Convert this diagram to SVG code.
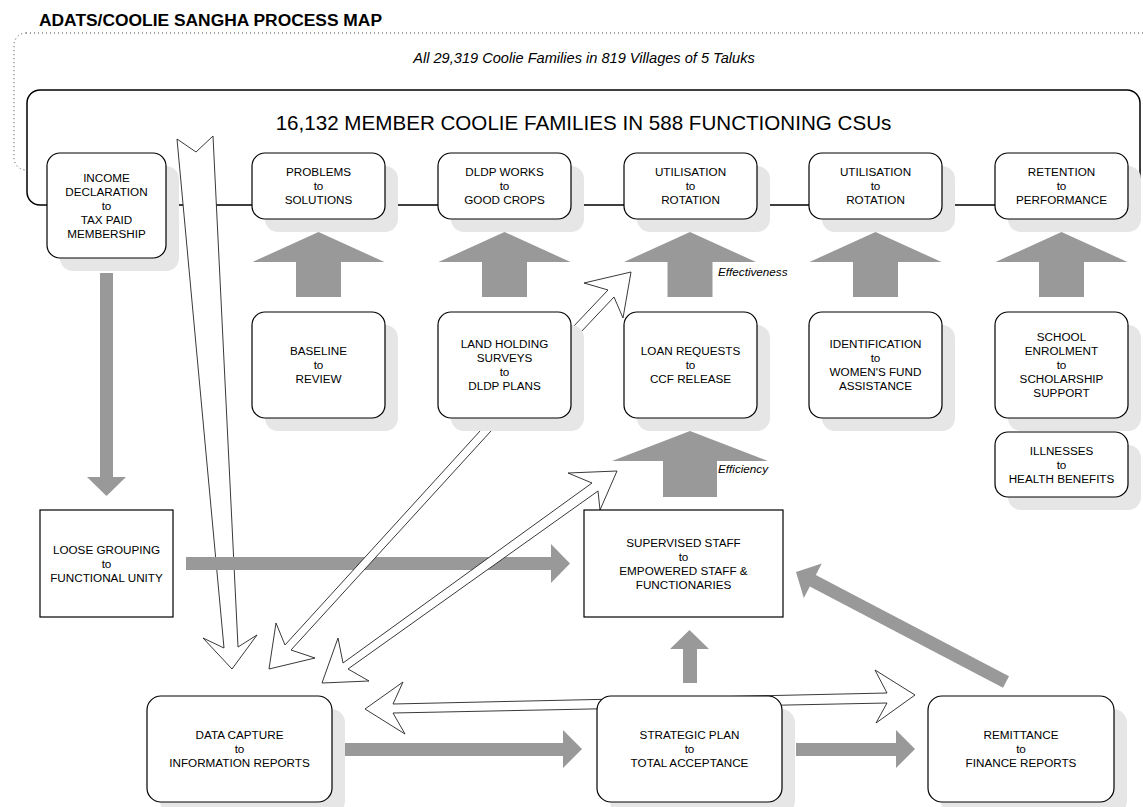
<svg xmlns="http://www.w3.org/2000/svg" width="1143" height="807" viewBox="0 0 1143 807">
<style>
text{font-family:"Liberation Sans",Arial,sans-serif;fill:#000}
.t{font-size:11.7px;text-anchor:middle}
.box{fill:#fff;stroke:#000;stroke-width:1.2}
.sh{fill:#e6e6e6}
.ga{fill:#999}
.ha{fill:#fff;stroke:#222;stroke-width:0.9;stroke-linejoin:miter}
.lbl{font-size:11.7px;font-style:italic}
</style>
<rect x="0" y="0" width="1143" height="807" fill="#fff"/>
<text x="39" y="26" font-size="17.4" font-weight="bold">ADATS/COOLIE SANGHA PROCESS MAP</text>

<g id="all-families">
<rect x="14" y="33" width="1150" height="137" rx="12" fill="none" stroke="#444" stroke-width="1" stroke-dasharray="1 3"/>
<text x="584" y="63" font-size="14.6" font-style="italic" text-anchor="middle">All 29,319 Coolie Families in 819 Villages of 5 Taluks</text>
</g>
<g id="member-families">
<rect x="27" y="90" width="1113" height="115" rx="13" fill="#fff" stroke="#000" stroke-width="1.5"/>
<text x="583.5" y="130" font-size="20.6" text-anchor="middle">16,132 MEMBER COOLIE FAMILIES IN 588 FUNCTIONING CSUs</text>
</g>

<g id="connectors">
<polygon class="ha" points="177,139 196,152 213,136 238,647 257,635 232,669 203,638 224,648"/>
<polygon class="ga" points="296,297 296,262 252.5,262 318.5,232 384.5,262 341,262 341,297"/>
<polygon class="ga" points="482,297 482,262 438.5,262 504.5,232 570.5,262 527,262 527,297"/>
<polygon class="ga" points="667.5,297 667.5,262 624,262 690,232 756,262 712.5,262 712.5,297"/>
<polygon class="ga" points="853,297 853,262 809.5,262 875.5,232 941.5,262 898,262 898,297"/>
<polygon class="ga" points="1039,297 1039,262 995.5,262 1061.5,232 1127.5,262 1084,262 1084,297"/>
<polygon class="ga" points="663,497 663,461 612,461 690,431 768,461 717,461 717,497"/>
<polygon class="ga" points="100,273 113,273 113,477 126,477 106.5,496 87,477 100,477"/>
<polygon class="ga" points="186,557 551,557 551,544 570,563.5 551,583 551,570 186,570"/>
<polygon class="ga" points="683,683 683,649 670,649 689.5,630 709,649 697,649 697,683"/>
<polygon class="ga" points="345,743 563,743 563,730 582,749 563,768 563,756 345,756"/>
<polygon class="ga" points="796,743 896,743 896,730 915,749 896,768 896,756 796,756"/>
<polygon class="ga" points="1009,676.2 815.8,575 821.8,563.5 796,572 803.8,598.1 809.8,586.6 1003,687.8"/>
<polygon class="ha" points="494.6,415 285,645 276,623 269,669 315,658 291,650 505.6,415"/>
<polygon class="ha" points="555,346 608,290 584,283 631,272 623,318 614,297 563,351"/>
<polygon class="ha" points="322,683 338,638 343,663 592,483 568,473 617,471 600,510 598,491 348,669 369,681"/>
<polygon class="ha" points="365,709 403,682 393,704 887,693 875,670 915,695 876,723 887,703 393,713 405,734"/>
<text class="lbl" x="718" y="276">Effectiveness</text>
<text class="lbl" x="718" y="473">Efficiency</text>
</g>

<g id="income">
<rect class="sh" x="60" y="166" width="119" height="105" rx="13"/>
<rect class="box" x="47" y="153" width="119" height="105" rx="13"/>
<text class="t" x="106.5" y="181.7">INCOME<tspan x="106.5" dy="14">DECLARATION</tspan><tspan x="106.5" dy="14">to</tspan><tspan x="106.5" dy="14">TAX PAID</tspan><tspan x="106.5" dy="14">MEMBERSHIP</tspan></text>
</g>
<g id="problems">
<rect class="sh" x="265" y="166" width="133" height="66" rx="13"/>
<rect class="box" x="252" y="153" width="133" height="66" rx="13"/>
<text class="t" x="318.5" y="176.2">PROBLEMS<tspan x="318.5" dy="14">to</tspan><tspan x="318.5" dy="14">SOLUTIONS</tspan></text>
</g>
<g id="dldp-works">
<rect class="sh" x="451" y="166" width="133" height="66" rx="13"/>
<rect class="box" x="438" y="153" width="133" height="66" rx="13"/>
<text class="t" x="504.5" y="176.2">DLDP WORKS<tspan x="504.5" dy="14">to</tspan><tspan x="504.5" dy="14">GOOD CROPS</tspan></text>
</g>
<g id="utilisation-1">
<rect class="sh" x="637" y="166" width="133" height="66" rx="13"/>
<rect class="box" x="624" y="153" width="133" height="66" rx="13"/>
<text class="t" x="690.5" y="176.2">UTILISATION<tspan x="690.5" dy="14">to</tspan><tspan x="690.5" dy="14">ROTATION</tspan></text>
</g>
<g id="utilisation-2">
<rect class="sh" x="822" y="166" width="133" height="66" rx="13"/>
<rect class="box" x="809" y="153" width="133" height="66" rx="13"/>
<text class="t" x="875.5" y="176.2">UTILISATION<tspan x="875.5" dy="14">to</tspan><tspan x="875.5" dy="14">ROTATION</tspan></text>
</g>
<g id="retention">
<rect class="sh" x="1008" y="166" width="133" height="66" rx="13"/>
<rect class="box" x="995" y="153" width="133" height="66" rx="13"/>
<text class="t" x="1061.5" y="176.2">RETENTION<tspan x="1061.5" dy="14">to</tspan><tspan x="1061.5" dy="14">PERFORMANCE</tspan></text>
</g>

<g id="baseline">
<rect class="sh" x="265" y="325" width="133" height="106" rx="13"/>
<rect class="box" x="252" y="312" width="133" height="106" rx="13"/>
<text class="t" x="318.5" y="355.2">BASELINE<tspan x="318.5" dy="14">to</tspan><tspan x="318.5" dy="14">REVIEW</tspan></text>
</g>
<g id="land-holding">
<rect class="sh" x="451" y="325" width="133" height="106" rx="13"/>
<rect class="box" x="438" y="312" width="133" height="106" rx="13"/>
<text class="t" x="504.5" y="348.2">LAND HOLDING<tspan x="504.5" dy="14">SURVEYS</tspan><tspan x="504.5" dy="14">to</tspan><tspan x="504.5" dy="14">DLDP PLANS</tspan></text>
</g>
<g id="loan-requests">
<rect class="sh" x="637" y="325" width="133" height="106" rx="13"/>
<rect class="box" x="624" y="312" width="133" height="106" rx="13"/>
<text class="t" x="690.5" y="355.2">LOAN REQUESTS<tspan x="690.5" dy="14">to</tspan><tspan x="690.5" dy="14">CCF RELEASE</tspan></text>
</g>
<g id="identification">
<rect class="sh" x="822" y="325" width="133" height="106" rx="13"/>
<rect class="box" x="809" y="312" width="133" height="106" rx="13"/>
<text class="t" x="875.5" y="348.2">IDENTIFICATION<tspan x="875.5" dy="14">to</tspan><tspan x="875.5" dy="14">WOMEN'S FUND</tspan><tspan x="875.5" dy="14">ASSISTANCE</tspan></text>
</g>
<g id="school-enrolment">
<rect class="sh" x="1008" y="325" width="133" height="106" rx="13"/>
<rect class="box" x="995" y="312" width="133" height="106" rx="13"/>
<text class="t" x="1061.5" y="341.2">SCHOOL<tspan x="1061.5" dy="14">ENROLMENT</tspan><tspan x="1061.5" dy="14">to</tspan><tspan x="1061.5" dy="14">SCHOLARSHIP</tspan><tspan x="1061.5" dy="14">SUPPORT</tspan></text>
</g>
<g id="illnesses">
<rect class="sh" x="1008" y="445" width="133" height="65" rx="13"/>
<rect class="box" x="995" y="432" width="133" height="65" rx="13"/>
<text class="t" x="1061.5" y="454.7">ILLNESSES<tspan x="1061.5" dy="14">to</tspan><tspan x="1061.5" dy="14">HEALTH BENEFITS</tspan></text>
</g>

<g id="loose-grouping">
<rect class="box" x="40" y="510" width="133" height="107"/>
<text class="t" x="106.5" y="553.5">LOOSE GROUPING<tspan x="106.5" dy="14">to</tspan><tspan x="106.5" dy="14">FUNCTIONAL UNITY</tspan></text>
</g>
<g id="supervised-staff">
<rect class="box" x="584" y="510" width="199" height="107"/>
<text class="t" x="683.5" y="546.7">SUPERVISED STAFF<tspan x="683.5" dy="14">to</tspan><tspan x="683.5" dy="14">EMPOWERED STAFF &amp;</tspan><tspan x="683.5" dy="14">FUNCTIONARIES</tspan></text>
</g>

<g id="data-capture">
<rect class="sh" x="160" y="709" width="185" height="106" rx="14"/>
<rect class="box" x="147" y="696" width="185" height="106" rx="14"/>
<text class="t" x="239.5" y="739.2">DATA CAPTURE<tspan x="239.5" dy="14">to</tspan><tspan x="239.5" dy="14">INFORMATION REPORTS</tspan></text>
</g>
<g id="strategic-plan">
<rect class="sh" x="610" y="709" width="185" height="106" rx="14"/>
<rect class="box" x="597" y="696" width="185" height="106" rx="14"/>
<text class="t" x="689.5" y="739.2">STRATEGIC PLAN<tspan x="689.5" dy="14">to</tspan><tspan x="689.5" dy="14">TOTAL ACCEPTANCE</tspan></text>
</g>
<g id="remittance">
<rect class="sh" x="941" y="709" width="186" height="106" rx="14"/>
<rect class="box" x="928" y="696" width="186" height="106" rx="14"/>
<text class="t" x="1021" y="739.2">REMITTANCE<tspan x="1021" dy="14">to</tspan><tspan x="1021" dy="14">FINANCE REPORTS</tspan></text>
</g>
</svg>
